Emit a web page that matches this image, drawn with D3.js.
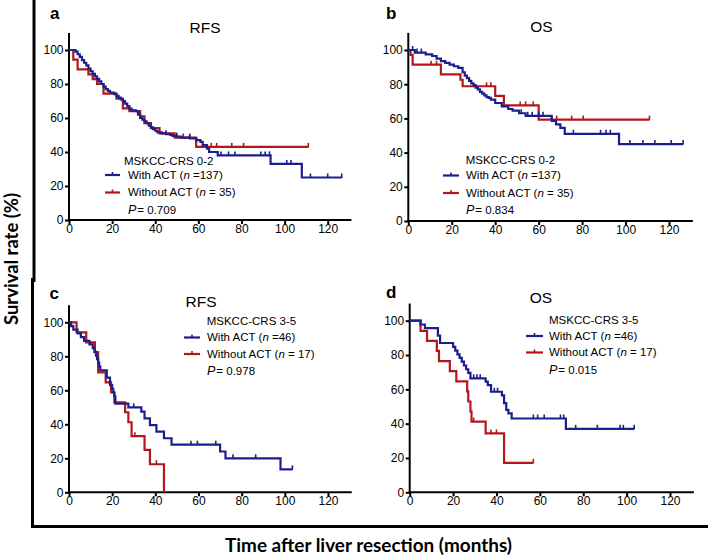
<!DOCTYPE html>
<html><head><meta charset="utf-8">
<script src="https://cdn.jsdelivr.net/npm/d3@7"></script>
<style>body{margin:0;background:#fff;} svg{display:block;}</style>
</head><body>
<svg id="chart" width="708" height="557"></svg>
<script>
// ---------- DATA ----------
const xTickValues = [0, 20, 40, 60, 80, 100, 120];
const yTickValues = [0, 20, 40, 60, 80, 100];
const panelLetters = ["a", "b", "c", "d"];
const panelTitles = ["RFS", "OS", "RFS", "OS"];
const legendTitles = ["MSKCC-CRS 0-2", "MSKCC-CRS 0-2", "MSKCC-CRS 3-5", "MSKCC-CRS 3-5"];
const withN = ["137", "137", "46", "46"];
const withoutN = ["35", "35", "17", "17"];
const pValues = ["0.709", "0.834", "0.978", "0.015"];
const seriesNames = ["With ACT", "Without ACT"];

// Panel a: RFS, MSKCC-CRS 0-2
const aWithT = [0,3,4,5,6,7,8,9,10,11,12,13,14,15,16,17,18,19,21,22,23,24,25,26,27,28,29,31,32,33,34,35,36,37,38,39,40,41,43,45,47,48,50,52,56,59,61,62,64,65,69,93.5,108];
const aWithS = [100,99,97.5,96,94,92.5,91,89,87.5,86,84.5,83,81.5,80,78.5,77,76,75,74,73,72,71,70,68.5,67,65.5,64.5,64,62,60,59,58,57,55.5,54.5,53.5,52.5,51.5,51,50.5,50,49.5,49,48.5,48,47,46,44,42,40,38,33,25];
const aWithEnd = 126.5;
const aWithCens = [45,50,56,70.5,74,77,89,91,93,101,103,112,120,126.5];
const aWithoutT = [0,2,4,9,11,13,16,22,25,28,33,35,38,42,49,59];
const aWithoutS = [100,94.3,88.6,85.7,82.9,80,74.3,71.4,65.7,64,61,57,54,51,48.5,43];
const aWithoutEnd = 111;
const aWithoutCens = [53,56,66,68.5,75.5,81,111];

// Panel b: OS, MSKCC-CRS 0-2
const bWithT = [0,3,8,11,13,15,17,19,21,23,25,26,27,28,29,30,31,32,33,34,35,36,37,38,40,43,46,48,51,54,66,68,70,72,97];
const bWithS = [100,98.5,97.5,96.5,95,93.5,92.5,91.5,90.5,89.5,87,85,83.5,82,80.5,79.5,78,77,75.5,74.5,73.5,72.5,72,71,69,67,65.5,64.5,63,61.5,58.5,56.5,54.5,51,45];
const bWithEnd = 126.5;
const bWithCens = [2,4,6,52,55,57,60,62,76,88.5,91,93,102,108,113.5,121,126.5];
const bWithoutT = [0,1,2,15,24,25,40,44,60];
const bWithoutS = [100,97.1,91.4,85.7,82.6,78.8,73.2,67.6,59.3];
const bWithoutEnd = 111;
const bWithoutCens = [10.5,13,36,38,51.5,54,57.5,66,68.3,75.2,80.5,111];

// Panel c: RFS, MSKCC-CRS 3-5
const cWithT = [0,1,2,4,5.5,7,9.5,11,11.8,12.5,13,13.5,14,14.5,17.5,19,20,20.5,21,21.5,27.5,33.5,35,37.5,40.5,44,47.5,70,72.5,98];
const cWithS = [100,97.8,95.7,93.5,91.3,89.1,87,84.8,82.6,80.4,78.3,76.1,73.9,71.7,67.4,63,60.9,58.7,56.5,52.2,50,47.5,43.5,39.5,35.7,31.8,28,24,20,13.5];
const cWithEnd = 103.5;
const cWithCens = [30,56.5,59.5,68,76,86.5,103.5];
const cWithoutT = [0,3.5,8,12,13.5,17,19.5,21,26,27.5,29,35,37.5,44];
const cWithoutS = [100,94.1,88.2,82.4,70.6,64.7,58.8,52.9,47.1,41.2,33,25,16.5,0];
const cWithoutEnd = 44;
const cWithoutCens = [30.5,40.5];

// Panel d: OS, MSKCC-CRS 3-5
const dWithT = [0,5,7,13,14,20,21,22,23,24,25,26,27,28,35,36,37.5,42.5,43.5,44.5,45.5,47,72];
const dWithS = [100,97.8,95.7,91.3,87,84.8,82.6,80.4,78.3,76.1,73.9,71.7,69.6,66.4,64.5,62.5,58.6,56.5,52,48,46,43,37];
const dWithEnd = 103.5;
const dWithCens = [29.5,31,32.5,39,40.5,57,59,62,69.5,71,76.5,86.5,97,98.5,103.5];
const dWithoutT = [0,5,8,12.5,13.5,18.5,21.5,26.5,27,28,28.5,35,43.5];
const dWithoutS = [100,94.1,88.2,82.4,76.5,70.6,64.7,58.8,52.9,47.1,41.2,34.3,17.2];
const dWithoutEnd = 57;
const dWithoutCens = [29.5,37.5,40,57];

// ---------- LAYOUT / STYLE ----------
const BLUE = "#1b1f8c", RED = "#b3161d";
const layout = [
  {x0:69,   x120:327.7, y0:220,   y100:50,
   letter:[50,19], title:[205,33], leg:{tx:124, ty:164.5, lx0:105, lx1:120, lx:128, r1:178.5, r2:196, p:213.5}},
  {x0:408.3,x120:669,   y0:221,   y100:50,
   letter:[386,18.5], title:[541.5,32], leg:{tx:465.7, ty:164, lx0:443, lx1:459, lx:466, r1:179, r2:196.5, p:214}},
  {x0:69,   x120:328,   y0:492.3, y100:322.3,
   letter:[49.5,298.5], title:[201,306.5], leg:{tx:206.7, ty:324.5, lx0:184, lx1:200, lx:207, r1:341, r2:357.5, p:375}},
  {x0:409.7,x120:670,   y0:492.3, y100:320.7,
   letter:[386,297.5], title:[541,302.5], leg:{tx:549, ty:323.5, lx0:526, lx1:543, lx:549, r1:339.5, r2:356, p:373.5}}
];
const panelSeries = [
  [{T:aWithoutT,S:aWithoutS,end:aWithoutEnd,cens:aWithoutCens,color:RED},{T:aWithT,S:aWithS,end:aWithEnd,cens:aWithCens,color:BLUE}],
  [{T:bWithoutT,S:bWithoutS,end:bWithoutEnd,cens:bWithoutCens,color:RED},{T:bWithT,S:bWithS,end:bWithEnd,cens:bWithCens,color:BLUE}],
  [{T:cWithoutT,S:cWithoutS,end:cWithoutEnd,cens:cWithoutCens,color:RED},{T:cWithT,S:cWithS,end:cWithEnd,cens:cWithCens,color:BLUE}],
  [{T:dWithoutT,S:dWithoutS,end:dWithoutEnd,cens:dWithoutCens,color:RED},{T:dWithT,S:dWithS,end:dWithEnd,cens:dWithCens,color:BLUE}]
];
const XMAX = 131, YMAX = 110;
const FONT = "'Liberation Sans', Arial, sans-serif";

const svg = d3.select("#chart");

// frame
svg.append("line").attr("x1",34).attr("x2",34).attr("y1",0).attr("y2",282)
  .attr("stroke","#000").attr("stroke-width",3);
svg.append("line").attr("x1",32.5).attr("x2",32.5).attr("y1",278).attr("y2",528)
  .attr("stroke","#000").attr("stroke-width",3);
svg.append("line").attr("x1",31).attr("x2",708).attr("y1",526.5).attr("y2",526.5)
  .attr("stroke","#000").attr("stroke-width",3);

// axis titles
svg.append("text").attr("x",368.5).attr("y",551.5).attr("text-anchor","middle")
  .attr("font-family","Lato, 'Open Sans', sans-serif").attr("font-weight","bold").attr("font-size",19)
  .attr("textLength",287).attr("lengthAdjust","spacingAndGlyphs")
  .text("Time after liver resection (months)");
svg.append("text").attr("transform","translate(18,259) rotate(-90)").attr("text-anchor","middle")
  .attr("font-family","Lato, 'Open Sans', sans-serif").attr("font-weight","bold").attr("font-size",18)
  .attr("textLength",132).attr("lengthAdjust","spacingAndGlyphs")
  .text("Survival rate (%)");

function stepValue(T,S,t){ let v=S[0]; for(let i=0;i<T.length;i++){ if(T[i]<=t) v=S[i]; } return v; }

layout.forEach((L,pi)=>{
  const x = d3.scaleLinear().domain([0,XMAX]).range([L.x0, L.x0+(L.x120-L.x0)*XMAX/120]);
  const y = d3.scaleLinear().domain([0,YMAX]).range([L.y0, L.y0-(L.y0-L.y100)*YMAX/100]);
  const g = svg.append("g");

  // axes
  const xa = g.append("g").attr("transform",`translate(0,${L.y0})`)
    .call(d3.axisBottom(x).tickValues(xTickValues).tickSize(4).tickSizeOuter(0).tickPadding(0));
  const ya = g.append("g").attr("transform",`translate(${L.x0},0)`)
    .call(d3.axisLeft(y).tickValues(yTickValues).tickSize(4).tickSizeOuter(0).tickPadding(1.5));
  [xa,ya].forEach(a=>{
    a.selectAll("path,line").attr("stroke","#000").attr("stroke-width",2);
    a.selectAll("text").attr("font-family",FONT).attr("font-size",12).attr("fill","#000");
  });
  xa.select(".domain").attr("d",`M${L.x0-1},0H${x(XMAX)}`);
  ya.select(".domain").attr("d",`M0,${L.y0+1}V${y(YMAX)}`);

  // curves
  const line = d3.line().x(d=>x(d[0])).y(d=>y(d[1])).curve(d3.curveStepAfter);
  panelSeries[pi].forEach(s=>{
    const pts = s.T.map((t,i)=>[t,s.S[i]]);
    pts.push([s.end, s.S[s.S.length-1]]);
    g.append("path").attr("d",line(pts)).attr("fill","none")
      .attr("stroke",s.color).attr("stroke-width",2.2).attr("stroke-linejoin","miter");
    g.selectAll(null).data(s.cens).enter().append("line")
      .attr("x1",d=>x(d)).attr("x2",d=>x(d))
      .attr("y1",d=>y(stepValue(s.T,s.S,d))-4).attr("y2",d=>y(stepValue(s.T,s.S,d))+0.5)
      .attr("stroke",s.color).attr("stroke-width",1.6);
  });

  // letter & title
  g.append("text").attr("x",L.letter[0]).attr("y",L.letter[1]).text(panelLetters[pi])
    .attr("font-family",FONT).attr("font-weight","bold").attr("font-size",17);
  g.append("text").attr("x",L.title[0]).attr("y",L.title[1]).attr("text-anchor","middle")
    .text(panelTitles[pi]).attr("font-family",FONT).attr("font-size",15.5);

  // legend
  const lg = L.leg;
  const lt = g.append("g").attr("font-family",FONT).attr("font-size",11.5).attr("fill","#000");
  lt.append("text").attr("x",lg.tx).attr("y",lg.ty).text(legendTitles[pi]);
  const rows = [
    {y:lg.r1, color:BLUE, name:seriesNames[0], n:" =" + withN[pi]},
    {y:lg.r2, color:RED,  name:seriesNames[1], n:" = " + withoutN[pi]}
  ];
  rows.forEach(r=>{
    const ly = r.y - 3.5;
    lt.append("line").attr("x1",lg.lx0).attr("x2",lg.lx1).attr("y1",ly).attr("y2",ly)
      .attr("stroke",r.color).attr("stroke-width",2.2);
    lt.append("line").attr("x1",(lg.lx0+lg.lx1)/2).attr("x2",(lg.lx0+lg.lx1)/2).attr("y1",ly-3).attr("y2",ly+0.5)
      .attr("stroke",r.color).attr("stroke-width",1.6);
    const t = lt.append("text").attr("x",lg.lx).attr("y",r.y);
    t.append("tspan").text(r.name + " (");
    t.append("tspan").attr("font-style","italic").text("n");
    t.append("tspan").text(r.n + ")");
  });
  const p = lt.append("text").attr("x",lg.lx).attr("y",lg.p);
  p.append("tspan").attr("font-style","italic").attr("font-size",12.5).text("P");
  p.append("tspan").attr("dx",1).text("= " + pValues[pi]);
});
</script>
</body></html>
